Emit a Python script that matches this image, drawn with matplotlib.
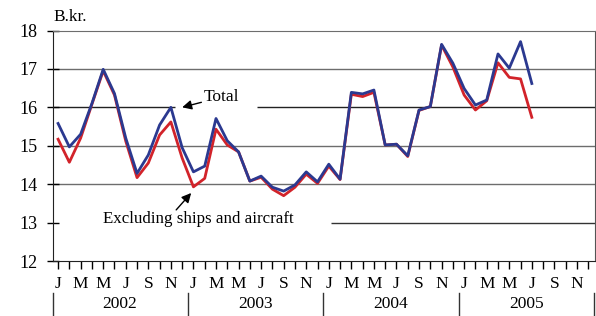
import numpy as np
import matplotlib.pyplot as plt
from matplotlib.lines import Line2D

plt.rcParams['font.family'] = ['Liberation Serif', 'DejaVu Serif']

# months Jan 2002 .. Jul 2005
total = [15.58, 14.97, 15.30, 16.10, 16.99, 16.36, 15.20, 14.28, 14.76, 15.54, 16.00, 14.95,
         14.32, 14.47, 15.71, 15.13, 14.84, 14.08, 14.21, 13.92, 13.82, 13.98, 14.32, 14.06,
         14.52, 14.13, 16.39, 16.35, 16.45, 15.02, 15.04, 14.74, 15.93, 16.02, 17.64, 17.15,
         16.49, 16.06, 16.19, 17.39, 17.02, 17.71, 16.62]
excl = [15.17, 14.57, 15.20, 16.08, 16.95, 16.32, 15.12, 14.17, 14.55, 15.28, 15.62, 14.68,
        13.93, 14.15, 15.43, 15.02, 14.84, 14.08, 14.18, 13.87, 13.70, 13.92, 14.26, 14.02,
        14.47, 14.12, 16.34, 16.28, 16.39, 15.02, 15.04, 14.72, 15.92, 16.02, 17.62, 17.05,
        16.32, 15.93, 16.17, 17.16, 16.78, 16.74, 15.74]
month_letters = ["J", "F", "M", "A", "M", "J", "J", "A", "S", "O", "N", "D"]
years = ["2002", "2003", "2004", "2005"]

x = np.arange(len(total))

fig = plt.figure(figsize=(5.96, 3.16), dpi=100)
ax = fig.add_axes([53/596, 55/316, 542/596, 230.5/316])

# grid lines (some broken around the labels)
grid_c = "#6d6d6d"
ax.hlines([14, 15, 17], -0.45, 47.6, color=grid_c, lw=1.0, zorder=1)
ax.hlines(16, -0.45, 10.4, color="#222222", lw=1.0, zorder=1)
ax.hlines(16, 17.6, 47.6, color="#222222", lw=1.0, zorder=1)
ax.hlines(13, 24.2, 47.6, color="#333333", lw=1.0, zorder=1)

ax.plot(x, excl, color="#d2232a", lw=2.0, zorder=3)
ax.plot(x, total, color="#2b3990", lw=2.0, zorder=4)

ax.set_xlim(-0.45, 47.6)
ax.set_ylim(12, 18)
ax.set_yticks(range(12, 19))
ax.tick_params(axis='y', direction='inout', length=8, width=1, labelsize=13, pad=7)

ticks = np.arange(48)
labels = [month_letters[i % 12] if i % 2 == 0 else "" for i in ticks]
ax.set_xticks(ticks)
ax.set_xticklabels(labels)
ax.tick_params(axis='x', direction='out', length=6, width=1, labelsize=12.5, pad=5)

for s in ["left", "bottom"]:
    ax.spines[s].set_color("#222222")
ax.spines["top"].set_color(grid_c)
ax.spines["right"].set_color("#555555")

# years and separators
trans = ax.get_xaxis_transform()
for xs in [-0.45, 11.5, 23.5, 35.5, 47.55]:
    ax.add_line(Line2D([xs, xs], [-0.139, -0.245], transform=trans, color="#333333",
                       lw=1.0, clip_on=False))
for i, y in enumerate(years):
    ax.text(12 * i + 5.5, -0.185, y, transform=trans, ha="center", va="center", fontsize=12.5)

ax.text(0, 1.058, "B.kr.", transform=ax.transAxes, ha="left", va="center", fontsize=12.5)

ax.annotate("Total", xy=(11.0, 16.0), xytext=(12.95, 16.27), fontsize=12.5, va="center",
            arrowprops=dict(arrowstyle="-|>", color="black", lw=1.0,
                            shrinkA=0, shrinkB=0, mutation_scale=14))
ax.annotate("", xy=(11.8, 13.77), xytext=(10.47, 13.33),
            arrowprops=dict(arrowstyle="-|>", color="black", lw=1.0,
                            shrinkA=0, shrinkB=0, mutation_scale=14))
ax.text(3.99, 13.09, "Excluding ships and aircraft", fontsize=12.2, va="center", ha="left")

fig.savefig("out.png", dpi=100)
